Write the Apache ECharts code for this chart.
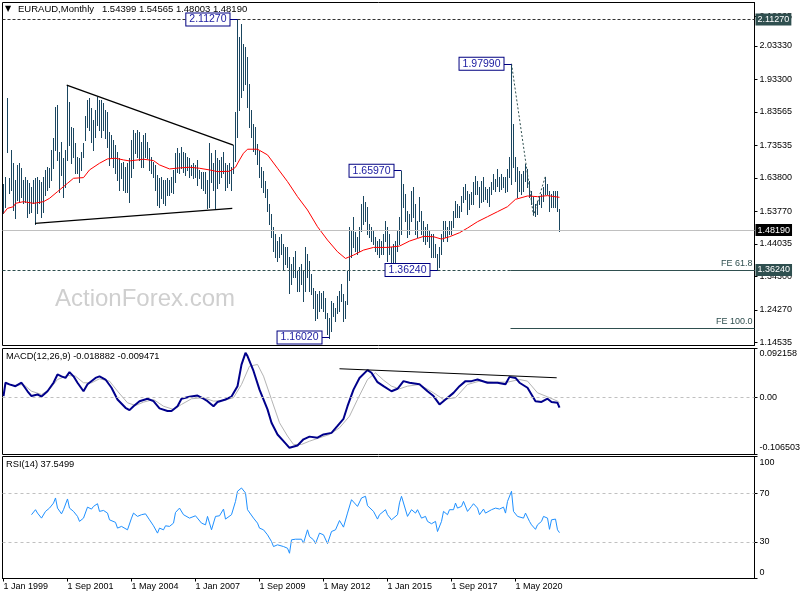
<!DOCTYPE html>
<html><head><meta charset="utf-8">
<script src="https://cdn.jsdelivr.net/npm/echarts@6/dist/echarts.min.js"></script>
<style>html,body{margin:0;padding:0;background:#fff}#c{width:800px;height:600px}</style>
</head><body><div id="c"></div><script>
// ---------- data ----------
const monthNames = ['Jan','Feb','Mar','Apr','May','Jun','Jul','Aug','Sep','Oct','Nov','Dec'];
const nSlots = 376; // monthly slots shown on the axis (bars + empty shift area)
const categories = [];
for (let k = 0; k < nSlots; k++) categories.push('1 ' + monthNames[k % 12] + ' ' + (1999 + Math.floor(k / 12)));
const tickIndex = [0, 32, 64, 96, 128, 160, 192, 224, 256];
const priceTicks = [2.12065, 2.03330, 1.93300, 1.83565, 1.73535, 1.63800, 1.53770, 1.44035, 1.34300, 1.24270, 1.14535];
const macdTicks = [0.092158, 0, -0.106503];
const rsiTicks = [100, 70, 30, 0];

const highs = [
1.620,1.640,1.876,1.637,1.722,1.682,1.632,1.677,1.682,1.667,1.632,1.642,
1.632,1.622,1.612,1.632,1.637,1.642,1.632,1.627,1.642,1.662,1.672,1.667,
1.722,1.757,1.851,1.856,1.717,1.747,1.697,1.722,1.916,1.866,1.791,1.787,
1.742,1.702,1.697,1.717,1.742,1.822,1.871,1.876,1.846,1.811,1.841,1.881,
1.871,1.871,1.861,1.841,1.836,1.776,1.766,1.752,1.737,1.717,1.697,1.682,
1.687,1.672,1.682,1.697,1.752,1.782,1.772,1.782,1.777,1.747,1.767,1.772,
1.747,1.727,1.702,1.687,1.677,1.647,1.637,1.642,1.632,1.632,1.637,1.632,
1.642,1.662,1.712,1.727,1.712,1.732,1.717,1.712,1.702,1.697,1.677,1.682,
1.677,1.692,1.662,1.657,1.657,1.657,1.632,1.742,1.712,1.682,1.722,1.697,
1.692,1.702,1.717,1.682,1.677,1.682,1.672,1.737,1.835,2.1127,2.060,2.100,
2.040,2.030,2.000,1.920,1.840,1.800,1.790,1.740,1.720,1.670,1.660,1.630,
1.605,1.560,1.530,1.490,1.470,1.450,1.460,1.470,1.440,1.430,1.430,1.400,
1.380,1.400,1.420,1.360,1.370,1.380,1.360,1.430,1.410,1.390,1.350,1.310,
1.300,1.290,1.300,1.295,1.300,1.280,1.235,1.220,1.270,1.265,1.250,1.285,
1.300,1.320,1.290,1.270,1.360,1.490,1.480,1.520,1.475,1.460,1.490,1.560,
1.585,1.565,1.550,1.500,1.490,1.480,1.460,1.450,1.455,1.450,1.470,1.510,
1.490,1.470,1.430,1.440,1.450,1.480,1.520,1.6597,1.620,1.590,1.540,1.530,
1.600,1.610,1.560,1.510,1.580,1.540,1.510,1.490,1.500,1.480,1.470,1.470,
1.440,1.410,1.430,1.470,1.510,1.510,1.490,1.510,1.510,1.540,1.570,1.560,
1.555,1.585,1.610,1.620,1.600,1.590,1.595,1.625,1.645,1.630,1.610,1.630,
1.640,1.610,1.605,1.610,1.625,1.650,1.635,1.665,1.640,1.650,1.640,1.640,
1.665,1.700,1.9799,1.800,1.700,1.670,1.660,1.650,1.660,1.680,1.665,1.630,
1.600,1.580,1.560,1.570,1.580,1.590,1.610,1.640,1.620,1.600,1.590,1.600,
1.600,1.600,1.54565];
const lows = [
1.532,1.550,1.717,1.592,1.602,1.542,1.517,1.572,1.567,1.582,1.562,1.567,
1.522,1.532,1.537,1.562,1.500,1.532,1.562,1.522,1.537,1.587,1.602,1.612,
1.632,1.667,1.722,1.692,1.597,1.647,1.582,1.612,1.692,1.737,1.682,1.702,
1.652,1.652,1.627,1.662,1.702,1.752,1.791,1.781,1.747,1.722,1.762,1.797,
1.781,1.762,1.781,1.757,1.732,1.677,1.702,1.672,1.652,1.632,1.602,1.637,
1.602,1.597,1.597,1.567,1.642,1.667,1.712,1.702,1.692,1.672,1.672,1.702,
1.697,1.662,1.652,1.642,1.602,1.557,1.552,1.577,1.562,1.557,1.587,1.587,
1.597,1.592,1.627,1.657,1.652,1.667,1.657,1.647,1.662,1.642,1.647,1.637,
1.642,1.617,1.637,1.607,1.602,1.592,1.547,1.552,1.627,1.602,1.547,1.607,
1.622,1.642,1.652,1.602,1.612,1.622,1.602,1.652,1.690,1.762,1.840,1.880,
1.900,1.920,1.850,1.790,1.760,1.720,1.710,1.680,1.640,1.610,1.595,1.580,
1.540,1.500,1.460,1.420,1.400,1.390,1.400,1.410,1.365,1.380,1.370,1.293,
1.320,1.340,1.340,1.300,1.300,1.320,1.270,1.300,1.340,1.300,1.290,1.250,
1.213,1.220,1.240,1.250,1.240,1.220,1.170,1.1602,1.180,1.225,1.210,1.235,
1.240,1.270,1.210,1.220,1.260,1.332,1.400,1.430,1.420,1.410,1.420,1.480,
1.500,1.510,1.470,1.460,1.450,1.440,1.420,1.410,1.400,1.410,1.410,1.450,
1.390,1.410,1.375,1.368,1.380,1.420,1.440,1.470,1.550,1.510,1.460,1.470,
1.510,1.520,1.470,1.460,1.510,1.470,1.450,1.440,1.450,1.430,1.400,1.400,
1.400,1.3624,1.370,1.410,1.450,1.460,1.450,1.470,1.470,1.490,1.520,1.520,
1.520,1.540,1.565,1.575,1.530,1.545,1.560,1.560,1.590,1.590,1.550,1.565,
1.570,1.575,1.565,1.555,1.590,1.605,1.600,1.615,1.600,1.605,1.610,1.595,
1.600,1.640,1.620,1.670,1.630,1.580,1.600,1.590,1.600,1.630,1.610,1.580,
1.560,1.530,1.5252,1.530,1.560,1.550,1.570,1.590,1.590,1.540,1.550,1.550,
1.550,1.540,1.48003];

const maLine = [[0,1.532],[2,1.547],[5,1.552],[6,1.562],[10,1.567],[15,1.562],[20,1.567],[23,1.577],[27,1.597],[32,1.622],[35,1.637],[40,1.639],[43,1.662],[48,1.682],[52,1.695],[56,1.697],[60,1.692],[63,1.689],[70,1.694],[75,1.690],[78,1.677],[83,1.665],[88,1.668],[93,1.670],[98,1.667],[103,1.662],[107,1.657],[113,1.658],[116,1.670],[118,1.692],[120,1.712],[122,1.724],[127,1.724],[132,1.707],[137,1.667],[142,1.627],[147,1.582],[152,1.542],[157,1.492],[162,1.452],[167,1.417],[171,1.397],[175,1.407],[180,1.422],[185,1.430],[192,1.430],[198,1.434],[203,1.449],[207,1.457],[210,1.463],[215,1.462],[219,1.455],[223,1.462],[228,1.474],[232,1.488],[237,1.507],[242,1.522],[247,1.537],[252,1.552],[256,1.574],[262,1.584],[267,1.582],[272,1.585],[278,1.580]];

const macdLine = [[0,0.003],[1,0.028],[3,0.025],[6,0.0215],[9,0.028],[12,0.012],[14,0.003],[17,0.006],[19,0.002],[22,0.012],[25,0.028],[27,0.0435],[29,0.040],[31,0.037],[33,0.048],[35,0.040],[37,0.028],[40,0.012],[42,0.025],[46,0.037],[48,0.040],[51,0.034],[54,0.0186],[57,-0.0034],[61,-0.019],[63,-0.0234],[65,-0.016],[68,-0.0066],[72,-0.002],[75,-0.0066],[78,-0.020],[82,-0.025],[84,-0.025],[87,-0.016],[89,-0.002],[93,0.0017],[97,0.004],[100,-0.002],[102,-0.0066],[105,-0.016],[107,-0.008],[111,-0.0034],[114,0.002],[117,0.0215],[119,0.062],[121,0.084],[122,0.078],[125,0.050],[128,0.015],[132,-0.022],[134,-0.047],[137,-0.069],[140,-0.0815],[143,-0.094],[147,-0.0896],[150,-0.078],[153,-0.073],[157,-0.075],[160,-0.069],[164,-0.066],[167,-0.053],[170,-0.0396],[172,-0.016],[175,0.015],[178,0.037],[182,0.0516],[184,0.0467],[187,0.029],[190,0.0215],[194,0.012],[197,0.0167],[200,0.031],[203,0.028],[208,0.025],[212,0.012],[215,0.003],[218,-0.0127],[221,-0.0034],[225,0.009],[228,0.0215],[231,0.031],[234,0.031],[237,0.034],[242,0.028],[247,0.028],[251,0.025],[253,0.039],[256,0.037],[258,0.028],[262,0.0186],[264,0.006],[266,-0.0066],[269,-0.008],[272,-0.002],[274,-0.008],[277,-0.0096],[278,-0.018882]];

const signalLine = [[2,0.0247],[5,0.0229],[10,0.0247],[14,0.0122],[19,0.006],[23,0.0154],[27,0.034],[32,0.0416],[36,0.0403],[40,0.0279],[44,0.0279],[48,0.0354],[53,0.031],[57,0.0122],[62,-0.0096],[66,-0.0146],[70,-0.0084],[75,-0.0034],[80,-0.016],[85,-0.0221],[89,-0.0127],[94,-0.0021],[100,0],[105,-0.0065],[110,-0.0053],[115,0],[119,0.0247],[123,0.059],[127,0.0622],[130,0.0403],[134,-0.0034],[138,-0.047],[142,-0.072],[145,-0.0877],[149,-0.0877],[153,-0.0815],[158,-0.0752],[163,-0.069],[168,-0.0564],[173,-0.0347],[177,-0.0034],[182,0.034],[186,0.0466],[190,0.0328],[194,0.0216],[198,0.0166],[202,0.0216],[208,0.0247],[215,0.0091],[220,-0.0034],[226,0],[232,0.0247],[238,0.031],[245,0.0291],[252,0.0291],[258,0.034],[262,0.031],[267,0.0091],[272,0.0016],[277,-0.0065],[278,-0.009471]];

const rsiLine = [[14,52.3],[16,56.4],[17,53.6],[19,49.5],[21,55],[23,57.7],[25,61.8],[26,66],[27,57.7],[29,53],[30,56.4],[32,65.2],[33,57.7],[35,55],[37,50.9],[38,46.8],[40,49.5],[42,58.5],[44,56.9],[45,59.1],[47,61.3],[48,55],[50,55.8],[52,53.6],[53,48.1],[56,46],[57,41.3],[59,42.7],[62,39.9],[64,49.5],[65,53.6],[67,50.9],[69,52.3],[71,53],[73,48.1],[75,43.2],[77,37.2],[78,41.3],[80,39.9],[81,43.2],[83,42.7],[85,45.4],[86,54.1],[88,57.7],[90,52.3],[91,53.6],[93,49.5],[96,51.4],[97,50.9],[99,45.4],[101,44],[102,50.9],[104,39.9],[105,38.5],[106,50.9],[108,51.4],[110,56.9],[111,48.7],[112,48.1],[114,52.3],[116,63.2],[117,71.5],[119,74.2],[121,70.1],[122,56.4],[125,49.5],[127,45.4],[128,41.3],[130,39.9],[132,35.8],[134,30.3],[135,26.2],[137,27.6],[140,26.2],[142,24.8],[143,20.7],[144,31.7],[146,32.2],[147,31.7],[149,32.2],[150,29],[152,39.9],[153,34.4],[155,31.7],[156,28.6],[158,37.2],[160,35.8],[161,34.4],[162,28.6],[164,38.5],[166,39.9],[168,47.5],[170,42.1],[172,53.6],[174,64.6],[175,66],[177,59.1],[179,66],[181,67.4],[182,59.7],[185,55],[187,48.7],[188,52.3],[191,56.4],[192,52.3],[194,48.1],[197,52.3],[198,62],[199,67.4],[200,66],[202,50.9],[203,49.5],[204,56.4],[206,53.6],[207,56.4],[209,49.5],[211,50.9],[212,46.8],[214,44.9],[216,46.8],[217,38.5],[219,46.8],[220,55],[222,52.3],[223,56.4],[225,56.4],[226,61.8],[227,57.7],[229,59.1],[230,63.2],[232,55],[234,59.1],[235,61.3],[237,57.7],[238,52.3],[240,56.9],[241,53.6],[242,55],[244,56.4],[246,57.7],[248,56.9],[250,58.5],[251,53.6],[252,63.2],[254,71.5],[255,55],[257,50.9],[258,52.3],[260,49.5],[261,53.6],[263,46.8],[264,44],[266,40.3],[267,44],[269,46.8],[270,50.9],[272,49.5],[273,40.3],[274,48.1],[275,46.8],[276,48.7],[277,39.9],[278,37.5499]];

const levelHigh = 2.1127, lastPrice = 1.4819, levelLow = 1.3624;
const fe618 = 1.3624, fe100 = 1.1878, feStart = 253.5;
const swingIdx = [117, 254, 199, 217, 163];
const swingPrice = [2.1127, 1.9799, 1.6597, 1.3624, 1.1602];
const upperTrend = [[31.6, 1.916], [114.9, 1.7366]];
const lowerTrend = [[15.75, 1.5022], [114.4, 1.547]];
const feZigzag = [[254, 1.9799], [265, 1.5252], [271, 1.644]];
const macdTrend = [[168, 0.0542], [276.6, 0.0373]];
const headerMain = 'EURAUD,Monthly   1.54399 1.54565 1.48003 1.48190';
const headerMacd = 'MACD(12,26,9) -0.018882 -0.009471';
const headerRsi = 'RSI(14) 37.5499';
const watermark = 'ActionForex.com';

// ---------- chart ----------
// The x axis counts slots from 1 (slot = bar index + 1) so that the axis range never contains 0.
const X0 = 1;
const sx = (p) => [p[0] + X0, p[1]];
const FONT = '"Liberation Sans", Arial, "DejaVu Sans", sans-serif';
const BAR = '#1a4660';
const SLATE = '#2f4f4f';
const XMIN = X0 - 0.5, XMAX = X0 + nSlots - 0.5;
const chart = echarts.init(document.getElementById('c'), null, {renderer: 'canvas'});

const makeGrid = (top, height) => ({left: 2.5, width: 752, top: top, height: height, show: true, borderColor: '#000', borderWidth: 1,
  backgroundColor: 'transparent', containLabel: false, outerBoundsMode: 'none'});
const hiddenX = (g) => ({gridIndex: g, type: 'value', min: XMIN, max: XMAX, show: false,
  axisLine: {show: false, onZero: false}, axisTick: {show: false}, axisLabel: {show: false}, splitLine: {show: false}});
const makeY = (g, min, max, ticks, labelOpts) => ({
  gridIndex: g, type: 'value', position: 'right', min: min, max: max,
  axisLine: {show: true, onZero: false, lineStyle: {color: '#000', width: 1}},
  splitLine: {show: false},
  axisTick: {show: true, customValues: ticks, length: 3, inside: false, lineStyle: {color: '#000'}},
  axisLabel: Object.assign({customValues: ticks, fontSize: 9, color: '#000', fontFamily: FONT, margin: 5, showMinLabel: true, showMaxLabel: true}, labelOpts)
});

const badge = (bg, txt) => ({show: true, position: 'end', distance: 1, formatter: txt,
  color: '#fff', backgroundColor: bg, padding: [2, 2, 1, 2], fontSize: 9, fontFamily: FONT});
const seg = (a, b, lineStyle, label) => [{coord: sx(a), lineStyle: lineStyle, label: label || {show: false}}, {coord: sx(b)}];

const swingMarks = swingIdx.map((ix, k) => seg([ix - 4, swingPrice[k]], [ix, swingPrice[k]],
  {color: '#000080', width: 1, type: 'solid'},
  {show: true, position: 'start', distance: 0, formatter: swingPrice[k].toFixed(5), color: '#1a1aa0',
   backgroundColor: '#fff', borderColor: '#000080', borderWidth: 1, padding: [1, 3, 0, 3], fontSize: 10.5, fontFamily: FONT}));

const richSmall = (extra) => Object.assign({fontSize: 9, fontFamily: FONT, color: '#000'}, extra || {});

const option = {
  animation: false,
  backgroundColor: '#fff',
  grid: [makeGrid(2.5, 343), makeGrid(348.5, 106), makeGrid(456.5, 122)],
  xAxis: [hiddenX(0), hiddenX(1), {
    gridIndex: 2, type: 'value', min: XMIN, max: XMAX,
    axisLine: {show: true, onZero: false, lineStyle: {color: '#000'}},
    axisTick: {show: true, customValues: tickIndex.map((t) => t + X0), length: 3, inside: false, lineStyle: {color: '#000'}},
    axisLabel: {customValues: tickIndex.map((t) => t + X0), formatter: (v) => categories[Math.round(v) - X0],
      align: 'left', margin: 4, fontSize: 9, color: '#000', fontFamily: FONT},
    splitLine: {show: false}
  }],
  yAxis: [
    makeY(0, 1.13635, 2.16329, priceTicks, {formatter: (v) => v.toFixed(5)}),
    makeY(1, macdTicks[2], macdTicks[0], macdTicks, {
      formatter: (v) => v > 0.01 ? '{t|' + macdTicks[0].toFixed(6) + '}' : (v < -0.01 ? '{b|' + macdTicks[2].toFixed(6) + '}' : '{m|0.00}'),
      rich: {t: richSmall({padding: [11, 0, 0, 0]}), b: richSmall({padding: [0, 0, 13, 0]}), m: richSmall()}}),
    makeY(2, 0, 100, rsiTicks, {
      formatter: (v) => v === 100 ? '{t|100}' : (v === 0 ? '{b|0}' : '{m|' + v + '}'),
      rich: {t: richSmall({padding: [12, 0, 0, 0]}), b: richSmall({padding: [0, 0, 12, 0]}), m: richSmall()}})
  ],
  graphic: [
    {type: 'text', left: 5, top: 5, z: 10, style: {text: '▼', fontSize: 8, fontFamily: '"DejaVu Sans", sans-serif', fill: '#000'}},
    {type: 'text', left: 18, top: 4, z: 10, style: {text: headerMain, fontSize: 9.5, fontFamily: FONT, fill: '#000'}},
    {type: 'text', left: 6, top: 352, z: 10, style: {text: headerMacd, fontSize: 9.3, fontFamily: FONT, fill: '#000'}},
    {type: 'text', left: 6, top: 460, z: 10, style: {text: headerRsi, fontSize: 9.3, fontFamily: FONT, fill: '#000'}},
    {type: 'text', left: 55, top: 287, z: 0, style: {text: watermark, fontSize: 24, fontFamily: FONT, fill: '#cfcfcf'}}
  ],
  series: [
    { // horizontal levels (behind bars)
      type: 'line', xAxisIndex: 0, yAxisIndex: 0, data: [], z: 1, silent: true,
      markLine: {silent: true, symbol: ['none', 'none'], animation: false, precision: 5,
        data: [
          {yAxis: lastPrice, lineStyle: {color: '#c0c0c0', type: 'solid', width: 1}, label: badge('#000', lastPrice.toFixed(5))},
          {yAxis: levelHigh, lineStyle: {color: '#333', type: [3, 2], width: 1}, label: badge(SLATE, levelHigh.toFixed(5))},
          {yAxis: levelLow, lineStyle: {color: SLATE, type: [3, 2], width: 1}, label: badge(SLATE, levelLow.toFixed(5))}
        ]}
    },
    {
      type: 'custom', xAxisIndex: 0, yAxisIndex: 0, z: 2, silent: true,
      itemStyle: {color: BAR, borderColor: BAR},
      data: highs.map((h, i) => [i + X0, h, lows[i]]),
      encode: {x: 0, y: [1, 2]},
      renderItem: (params, api) => {
        const a = api.coord([api.value(0), api.value(1)]);
        const b = api.coord([api.value(0), api.value(2)]);
        const x = Math.round(a[0] - 0.5) + 0.5;
        return {type: 'line', shape: {x1: x, y1: Math.round(a[1]), x2: x, y2: Math.round(b[1]) + 1},
          style: {stroke: BAR, fill: null, lineWidth: 1}};
      }
    },
    {
      type: 'line', xAxisIndex: 0, yAxisIndex: 0, data: maLine.map(sx), z: 3, showSymbol: false, silent: true,
      lineStyle: {color: '#ff0000', width: 1}
    },
    { // analyst drawings and FE levels
      type: 'line', xAxisIndex: 0, yAxisIndex: 0, data: feZigzag.map(sx), z: 4, showSymbol: false, silent: true,
      lineStyle: {color: SLATE, width: 1, type: [2, 2]},
      markLine: {silent: true, symbol: ['none', 'none'], animation: false, precision: 5,
        data: [
          seg([feStart, fe618], [nSlots - 0.5, fe618], {color: SLATE, width: 1, type: 'solid'},
            {show: true, position: 'insideEndTop', distance: 2, formatter: 'FE 61.8', color: SLATE, fontSize: 9, fontFamily: FONT}),
          seg([feStart, fe100], [nSlots - 0.5, fe100], {color: SLATE, width: 1, type: 'solid'},
            {show: true, position: 'insideEndTop', distance: 2, formatter: 'FE 100.0', color: SLATE, fontSize: 9, fontFamily: FONT}),
          seg(upperTrend[0], upperTrend[1], {color: '#000', width: 1.3, type: 'solid'}),
          seg(lowerTrend[0], lowerTrend[1], {color: '#000', width: 1.3, type: 'solid'})
        ].concat(swingMarks)}
    },
    {
      type: 'line', xAxisIndex: 1, yAxisIndex: 1, data: signalLine.map(sx), z: 2, showSymbol: false, silent: true,
      lineStyle: {color: '#b4b4b4', width: 1},
      markLine: {silent: true, symbol: ['none', 'none'], animation: false, label: {show: false},
        data: [{yAxis: 0, lineStyle: {color: '#c0c0c0', type: [3, 3], width: 1}}]}
    },
    {
      type: 'line', xAxisIndex: 1, yAxisIndex: 1, data: macdLine.map(sx), z: 3, showSymbol: false, silent: true,
      lineStyle: {color: '#00008b', width: 2},
      markLine: {silent: true, symbol: ['none', 'none'], animation: false,
        data: [seg(macdTrend[0], macdTrend[1], {color: '#000', width: 1, type: 'solid'})]}
    },
    {
      type: 'line', xAxisIndex: 2, yAxisIndex: 2, data: rsiLine.map(sx), z: 3, showSymbol: false, silent: true,
      lineStyle: {color: '#1e90ff', width: 1},
      markLine: {silent: true, symbol: ['none', 'none'], animation: false, label: {show: false},
        data: [{yAxis: 70, lineStyle: {color: '#c0c0c0', type: [3, 3], width: 1}},
               {yAxis: 30, lineStyle: {color: '#c0c0c0', type: [3, 3], width: 1}}]}
    }
  ]
};
chart.setOption(option);
</script></body></html>
